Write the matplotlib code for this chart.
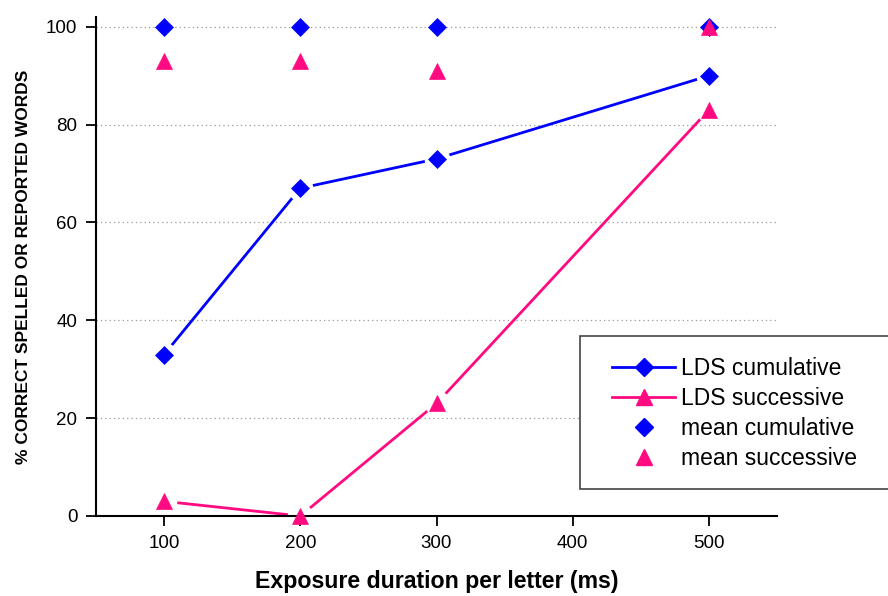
import matplotlib
matplotlib.use("Agg")
import matplotlib.pyplot as plt
from matplotlib.patches import Rectangle
from matplotlib.lines import Line2D

plt.rcParams['font.family'] = ['Liberation Sans', 'DejaVu Sans']

exposure = [100, 200, 300, 500]
lds_cumulative = [33, 67, 73, 90]
lds_successive = [3, 0, 23, 83]
mean_cumulative = [100, 100, 100, 100]
mean_successive = [93, 93, 91, 100]
x_ticks = [100, 200, 300, 400, 500]
y_ticks = [0, 20, 40, 60, 80, 100]

BLUE = '#0000FF'
PINK = '#FF0A80'
DIAMOND_MS = 9.5
TRIANGLE_MS = 11

fig = plt.figure(figsize=(8.88, 5.96), dpi=100)
ax = fig.add_axes([96 / 888, 1 - 516 / 596, (777 - 96) / 888, (516 - 17) / 596])

# dotted horizontal guides
for y in y_ticks[1:]:
    ax.axhline(y, color='#9a9a9a', lw=0.9, ls=(0, (1, 2.5)), zorder=0)

# connecting lines
ax.plot(exposure, lds_cumulative, color=BLUE, lw=2, zorder=2)
ax.plot(exposure, lds_successive, color=PINK, lw=2, zorder=2)
# white discs open a gap in each line around its markers
for series in (lds_cumulative, lds_successive):
    ax.plot(exposure, series, ls='none', marker='o', ms=18.5, mfc='white', mec='none', zorder=2.1)

ax.plot(exposure, lds_cumulative, ls='none', marker='D', ms=DIAMOND_MS,
        mfc=BLUE, mec=BLUE, mew=0.5, zorder=3)
ax.plot(exposure, lds_successive, ls='none', marker='^', ms=TRIANGLE_MS,
        mfc=PINK, mec=PINK, mew=0.5, zorder=3, clip_on=False)
ax.plot(exposure, mean_cumulative, ls='none', marker='D', ms=DIAMOND_MS,
        mfc=BLUE, mec=BLUE, mew=0.5, zorder=4, clip_on=False)
ax.plot(exposure, mean_successive, ls='none', marker='^', ms=TRIANGLE_MS,
        mfc=PINK, mec=PINK, mew=0.5, zorder=5, clip_on=False)

ax.set_xlim(50, 550)
ax.set_ylim(0, 102)
ax.set_xticks(x_ticks)
ax.set_yticks(y_ticks)
ax.tick_params(direction='out', length=7.5, width=1.3, labelsize=13.5, pad=6, colors='black')
for side in ('top', 'right'):
    ax.spines[side].set_visible(False)
for side in ('left', 'bottom'):
    ax.spines[side].set_linewidth(1.5)

ax.set_xlabel('Exposure duration per letter (ms)', fontsize=16.7, fontweight='bold', labelpad=13)
ax.set_ylabel('% CORRECT SPELLED OR REPORTED WORDS', fontsize=12.5, fontweight='bold', labelpad=11)

# legend box runs off the right edge of the figure
fig.patches.append(Rectangle((580 / 888, 1 - 489 / 596), 330 / 888, (489 - 336) / 596,
                             transform=fig.transFigure, fill=True, facecolor='white',
                             edgecolor='#444444', lw=1.2, zorder=10, clip_on=False))

handles = [
    Line2D([], [], color=BLUE, lw=2, marker='D', ms=DIAMOND_MS, mfc=BLUE, mec=BLUE),
    Line2D([], [], color=PINK, lw=2, marker='^', ms=TRIANGLE_MS, mfc=PINK, mec=PINK),
    Line2D([], [], ls='none', marker='D', ms=DIAMOND_MS, mfc=BLUE, mec=BLUE),
    Line2D([], [], ls='none', marker='^', ms=TRIANGLE_MS, mfc=PINK, mec=PINK),
]
labels = ['LDS cumulative', 'LDS successive', 'mean cumulative', 'mean successive']
leg = fig.legend(handles, labels, loc='upper left', bbox_to_anchor=(612 / 888, 1 - 357 / 596),
                 frameon=False, fontsize=16.5, handlelength=2.75, handletextpad=0.26,
                 labelspacing=0.3, borderpad=0, borderaxespad=0)
leg.set_zorder(11)

fig.savefig('out.png', dpi=100)
